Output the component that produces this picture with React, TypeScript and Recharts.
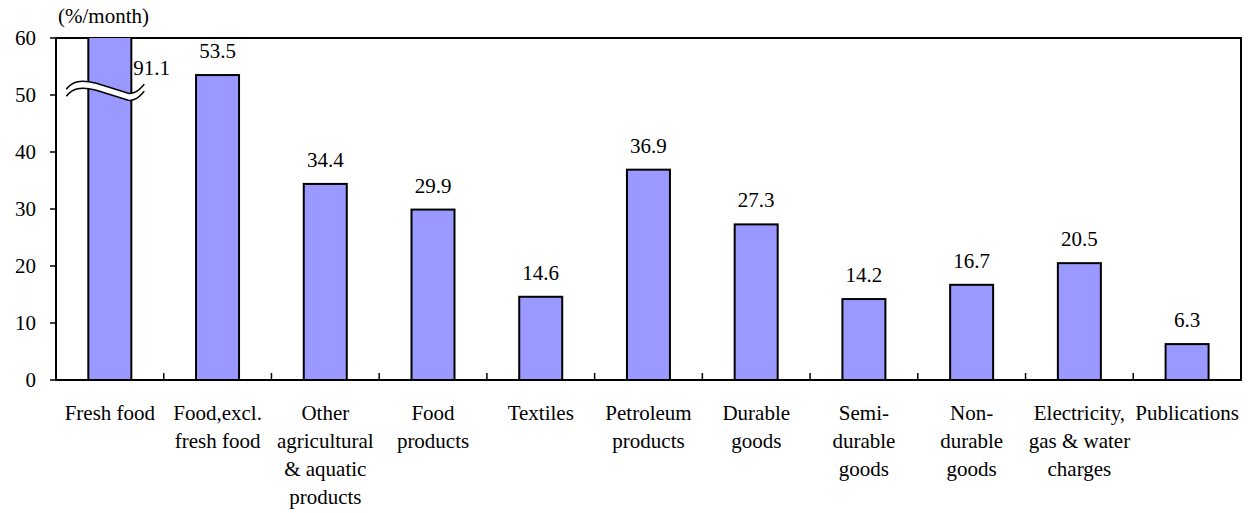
import React from 'react'
import {
  BarChart,
  Bar,
  XAxis,
  YAxis,
  LabelList,
  ReferenceArea,
} from 'recharts'

// 品目別の価格変動率 (%/month). 生鮮食品は軸の上限 60 を超えるので波線で省略表示.

const CATEGORIES: string[][] = [
  ['Fresh food'],
  ['Food,excl.', 'fresh food'],
  ['Other', 'agricultural', '& aquatic', 'products'],
  ['Food', 'products'],
  ['Textiles'],
  ['Petroleum', 'products'],
  ['Durable', 'goods'],
  ['Semi-', 'durable', 'goods'],
  ['Non-', 'durable', 'goods'],
  ['Electricity,', 'gas & water', 'charges'],
  ['Publications'],
]
const VALUES = [91.1, 53.5, 34.4, 29.9, 14.6, 36.9, 27.3, 14.2, 16.7, 20.5, 6.3]
const Y_TICKS = [0, 10, 20, 30, 40, 50, 60]
const Y_MAX = 60
const BREAK_AT = 51
const UNIT = '(%/month)'

const W = 1251
const H = 513
const MARGIN = { top: 38, right: 10, left: 0, bottom: 0 }
const X_AXIS_H = 133
const Y_AXIS_W = 56
const FONT = 'Liberation Serif'
const FS = 21
const STEP = (W - MARGIN.right - Y_AXIS_W) / VALUES.length

const data = VALUES.map((v, i) => ({ key: String(i), value: v }))

const T = ({ children, ...rest }: any) => (
  <text fill="#000" fontFamily={FONT} fontSize={FS} {...rest}>
    {children}
  </text>
)

const CategoryTick = (props: any) => {
  const { x, y, index } = props
  const lines = CATEGORIES[index] ?? []
  return (
    <g>
      {index < VALUES.length - 1 && (
        <line x1={x + STEP / 2} x2={x + STEP / 2} y1={y} y2={y - 7} stroke="#000" strokeWidth={1.5} />
      )}
      <T x={x} y={y + 40} textAnchor="middle">
        {lines.map((l, i) => (
          <tspan key={i} x={x} dy={i === 0 ? 0 : 28}>
            {l}
          </tspan>
        ))}
      </T>
    </g>
  )
}

const YTick = (props: any) => {
  const { x, y, payload } = props
  return (
    <T x={x} y={y + 7} textAnchor="end">
      {payload.value}
    </T>
  )
}

const BarShape = (props: any) => {
  const { x, y, width, height, payload } = props
  const bottom = y + height
  const ppu = height / payload.value
  const els = [
    <rect key="r" x={x} y={y} width={width} height={height} fill="#9999ff" stroke="#000" strokeWidth={2} />,
  ]
  if (payload.value > Y_MAX) {
    // 波線 (省略記号)
    const by = bottom - BREAK_AT * ppu
    const x0 = x - 22
    const x1 = x + width + 13
    const wave = (dy: number) =>
      `M${x0},${by + dy} C${x0 + 6},${by + dy - 8} ${x0 + 14},${by + dy - 10} ${x0 + 30},${by + dy - 6} ` +
      `L${x1 - 16},${by + dy + 4} C${x1 - 8},${by + dy + 5} ${x1 - 4},${by + dy - 1} ${x1},${by + dy - 5}`
    els.push(
      <path
        key="f"
        d={
          wave(0) +
          ` L${x1},${by + 2} ` +
          `C${x1 - 4},${by + 6} ${x1 - 8},${by + 12} ${x1 - 16},${by + 11} L${x0 + 30},${by + 1} C${x0 + 14},${by - 3} ${x0 + 6},${by - 1} ${x0},${by + 7} Z`
        }
        fill="#fff"
        stroke="none"
      />,
      <path key="a" d={wave(0)} fill="none" stroke="#000" strokeWidth={1.5} />,
      <path key="b" d={wave(7)} fill="none" stroke="#000" strokeWidth={1.5} />,
    )
  }
  return <g>{els}</g>
}

const ValueLabel = (props: any) => {
  const { x, y, width, value } = props
  if (value > Y_MAX) {
    return (
      <T x={x + width + 2} y={MARGIN.top + 37}>
        {value.toFixed(1)}
      </T>
    )
  }
  return (
    <T x={x + width / 2} y={y - 17} textAnchor="middle">
      {value.toFixed(1)}
    </T>
  )
}

export default function App() {
  return (
    <div style={{ position: 'relative', width: W, height: H, background: '#fff', fontFamily: FONT }}>
      <style>{'body{margin:0}'}</style>
      <div
        style={{
          position: 'absolute',
          left: 58,
          top: 6,
          fontFamily: FONT,
          fontSize: FS,
          lineHeight: `${FS}px`,
          color: '#000',
          whiteSpace: 'nowrap',
        }}
      >
        {UNIT}
      </div>
      <BarChart width={W} height={H} data={data} margin={MARGIN} barCategoryGap="30%">
        <XAxis
          dataKey="key"
          interval={0}
          tickLine={false}
          tickSize={0}
          tickMargin={0}
          axisLine={{ stroke: '#000', strokeWidth: 2 }}
          tick={<CategoryTick />}
          height={X_AXIS_H}
        />
        <YAxis
          domain={[0, Y_MAX]}
          ticks={Y_TICKS}
          allowDataOverflow
          width={Y_AXIS_W}
          tickSize={6}
          tickMargin={14}
          axisLine={{ stroke: '#000', strokeWidth: 2 }}
          tickLine={{ stroke: '#000', strokeWidth: 1.5 }}
          tick={<YTick />}
        />
        <ReferenceArea y1={0} y2={Y_MAX} fill="none" stroke="#000" strokeWidth={2} fillOpacity={0} />
        <Bar dataKey="value" shape={<BarShape />} isAnimationActive={false}>
          <LabelList dataKey="value" content={<ValueLabel />} />
        </Bar>
      </BarChart>
    </div>
  )
}
